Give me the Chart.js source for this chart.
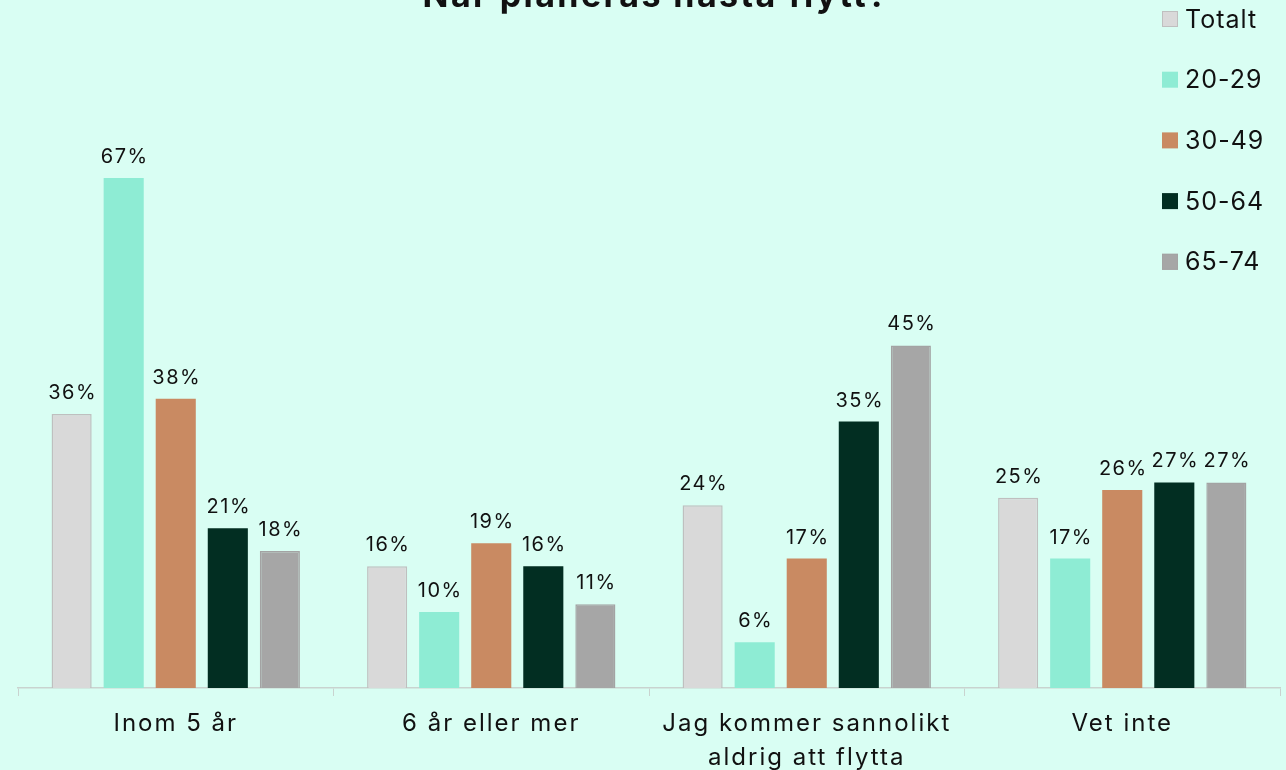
<!DOCTYPE html>
<html>
<head>
<meta charset="utf-8">
<script src="https://cdn.jsdelivr.net/npm/chart.js@4.4.1/dist/chart.umd.min.js"></script>
<style>
  html, body { margin: 0; padding: 0; background: #d9fef3; }
  #wrap { width: 1286px; height: 770px; position: relative; }
</style>
</head>
<body>
<div id="wrap"><canvas id="grafico"></canvas></div>
<script>
// dados
const titulo = 'När planeras nästa flytt?';
const categorias = ['Inom 5 år', '6 år eller mer', ['Jag kommer sannolikt', 'aldrig att flytta'], 'Vet inte'];
const serieNomes = ['Totalt', '20-29', '30-49', '50-64', '65-74'];
const totalt = [36, 16, 24, 25];
const idade2029 = [67, 10, 6, 17];
const idade3049 = [38, 19, 17, 26];
const idade5064 = [21, 16, 35, 27];
const idade6574 = [18, 11, 45, 27];

const cores = ['#d9d9d9', '#8eecd4', '#c98a62', '#022e22', '#a6a6a6'];
const bordas = ['#bfbfbf', '#8eecd4', '#c98a62', '#022e22', '#a3a3a3'];
const valores = [totalt, idade2029, idade3049, idade5064, idade6574];

const fonte = 'Inter, "Open Sans", sans-serif';

// espaçamento das letras (Chart.js não tem opção pra isso)
const espacoPlugin = {
    id: 'espaco',
    beforeDraw(chart) {
        chart.ctx.letterSpacing = '2px';
    }
};

// rótulos em cima das barras
const rotulosPlugin = {
    id: 'rotulos',
    afterDatasetsDraw(chart) {
        const ctx = chart.ctx;
        ctx.save();
        ctx.letterSpacing = '1.5px';
        ctx.font = '20px ' + fonte;
        ctx.fillStyle = '#111';
        ctx.textAlign = 'center';
        ctx.textBaseline = 'bottom';
        chart.data.datasets.forEach((ds, i) => {
            chart.getDatasetMeta(i).data.forEach((bar, j) => {
                ctx.fillText(ds.data[j] + '%', bar.x + 1, bar.y - 11);
            });
        });
        ctx.restore();
    }
};

// título e legenda desenhados por cima
const extrasPlugin = {
    id: 'extras',
    afterDraw(chart) {
        const ctx = chart.ctx;
        ctx.save();
        ctx.letterSpacing = '2.4px';
        ctx.font = 'bold 34px ' + fonte;
        ctx.fillStyle = '#111';
        ctx.textAlign = 'center';
        ctx.textBaseline = 'alphabetic';
        ctx.fillText(titulo, 656, 7);

        ctx.letterSpacing = '1px';
        ctx.font = '25px ' + fonte;
        ctx.textAlign = 'left';
        ctx.textBaseline = 'middle';
        chart.data.datasets.forEach((ds, i) => {
            const y = 19 + i * 60.7;
            ctx.fillStyle = ds.backgroundColor;
            ctx.fillRect(1162, y - 8, 16, 16);
            if (i === 0 || i === 4) {
                ctx.strokeStyle = ds.borderColor;
                ctx.lineWidth = 1;
                ctx.strokeRect(1162.5, y - 7.5, 15, 15);
            }
            ctx.fillStyle = '#111';
            ctx.fillText(ds.label, 1185, y + 1);
        });
        ctx.restore();
    }
};

const datasets = serieNomes.map((nome, i) => ({
    label: nome,
    data: valores[i],
    backgroundColor: cores[i],
    borderColor: bordas[i],
    borderWidth: (i === 0 || i === 4) ? 1.5 : 0,
    categoryPercentage: 0.825,
    barPercentage: 0.77
}));

new Chart(document.getElementById('grafico'), {
    type: 'bar',
    data: { labels: categorias, datasets: datasets },
    options: {
        responsive: true,
        maintainAspectRatio: false,
        animation: false,
        layout: { padding: { top: 79, left: 18, right: 6, bottom: 0 } },
        plugins: {
            legend: { display: false },
            title: { display: false },
            tooltip: { enabled: false }
        },
        scales: {
            x: {
                afterFit(scale) {
                    scale.height = 82;
                },
                grid: {
                    offset: true,
                    drawOnChartArea: false,
                    drawTicks: true,
                    tickLength: 8,
                    color: '#c9d3cf'
                },
                border: { color: '#c9d3cf', width: 1.5 },
                ticks: {
                    color: '#111',
                    font: { size: 24, family: fonte, lineHeight: 1.4 },
                    padding: 11,
                    maxRotation: 0
                }
            },
            y: {
                display: false,
                min: 0,
                max: 80
            }
        }
    },
    plugins: [espacoPlugin, rotulosPlugin, extrasPlugin]
});
</script>
</body>
</html>
